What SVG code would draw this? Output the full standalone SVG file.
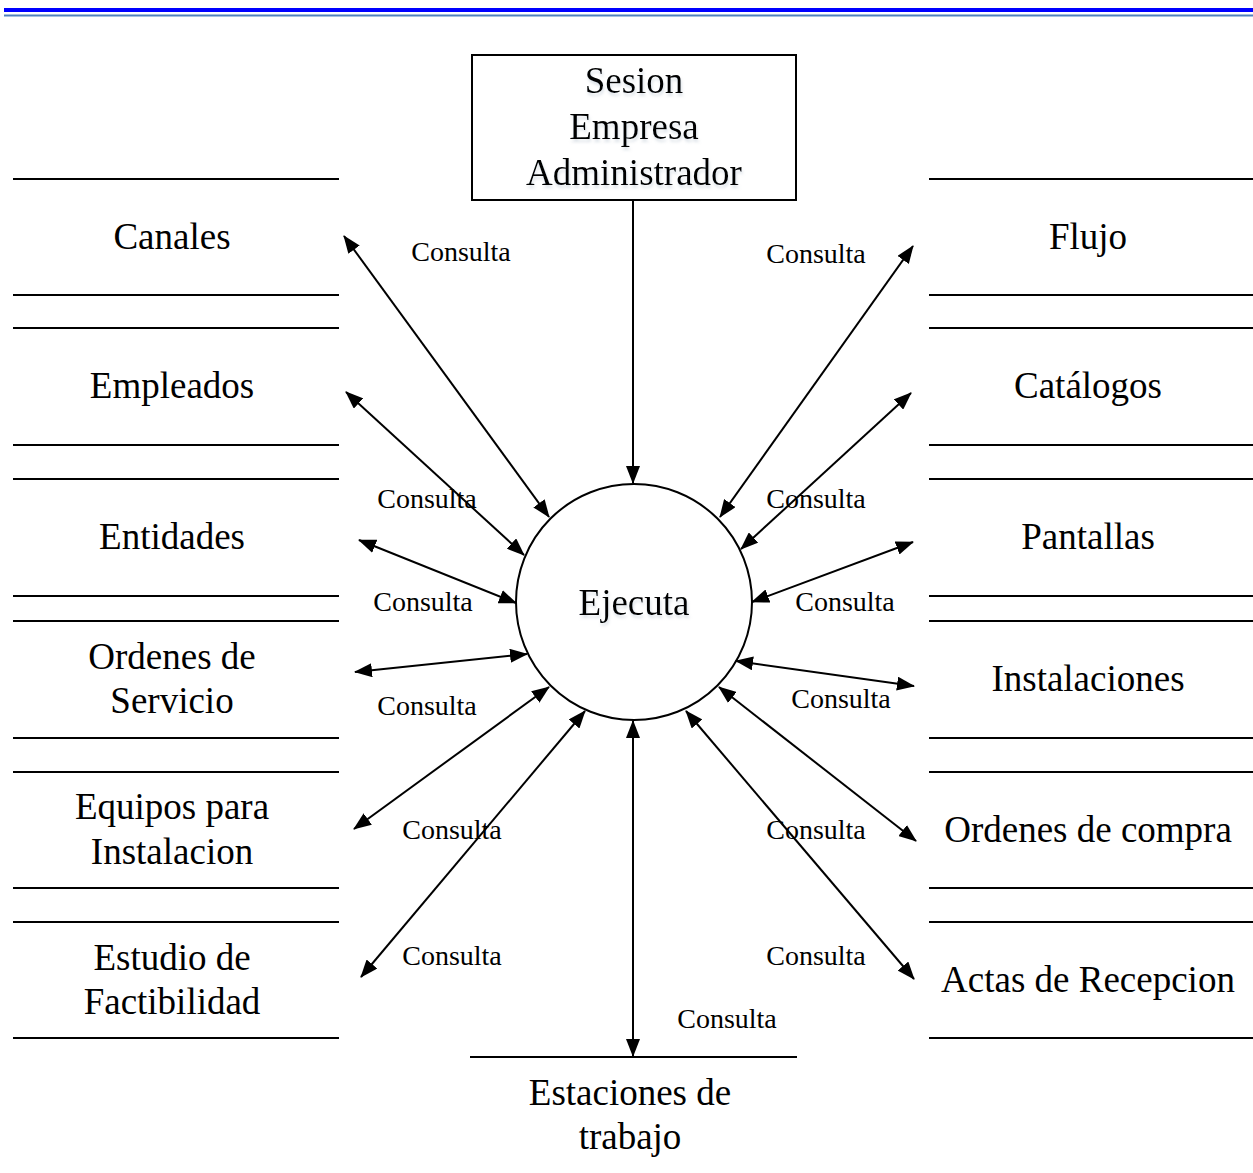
<svg xmlns="http://www.w3.org/2000/svg" width="1253" height="1173" viewBox="0 0 1253 1173">
<style>
.big{font-family:"Liberation Serif","Times New Roman",serif;font-size:37px;fill:#000;text-anchor:middle}
.lbl{font-family:"Liberation Serif","Times New Roman",serif;font-size:28px;fill:#000;text-anchor:middle}
.st{stroke:#000;stroke-width:2;fill:none}
.cn{stroke:#000;stroke-width:2;fill:none;marker-end:url(#ah)}
.cn2{stroke:#000;stroke-width:2;fill:none;marker-start:url(#ah);marker-end:url(#ah)}
</style>
<defs>
<marker id="ah" markerUnits="userSpaceOnUse" markerWidth="18" markerHeight="14" refX="17" refY="7" orient="auto-start-reverse" viewBox="0 0 18 14">
<path d="M0,0 L18,7 L0,14 Z" fill="#000"/>
</marker>
<filter id="sh" x="-10%" y="-20%" width="120%" height="150%">
<feGaussianBlur in="SourceAlpha" stdDeviation="1.5" result="b"/>
<feOffset dx="1" dy="3" result="o"/>
<feFlood flood-color="#9ab" flood-opacity="0.35"/>
<feComposite in2="o" operator="in" result="s"/>
<feMerge><feMergeNode in="s"/><feMergeNode in="SourceGraphic"/></feMerge>
</filter>
</defs>
<rect width="1253" height="1173" fill="#fff"/>
<rect x="4" y="8" width="1249" height="4" fill="#0000ff"/>
<rect x="4" y="14.5" width="1249" height="2" fill="#4f81bd"/>

<g id="sesion">
<rect x="472" y="55" width="324" height="145" fill="#fff" stroke="#000" stroke-width="2"/>
<g filter="url(#sh)">
<text class="big" x="634" y="93">Sesion</text>
<text class="big" x="634" y="139">Empresa</text>
<text class="big" x="634" y="185">Administrador</text>
</g>
</g>

<g id="ejecuta">
<circle cx="634" cy="602" r="118" fill="#fff" stroke="#000" stroke-width="2"/>
<text class="big" x="634" y="615" filter="url(#sh)">Ejecuta</text>
</g>

<g id="canales"><line class="st" x1="13" y1="179" x2="339" y2="179"/><line class="st" x1="13" y1="295" x2="339" y2="295"/><text class="big" x="172" y="249">Canales</text></g>
<g id="empleados"><line class="st" x1="13" y1="328" x2="339" y2="328"/><line class="st" x1="13" y1="445" x2="339" y2="445"/><text class="big" x="172" y="398">Empleados</text></g>
<g id="entidades"><line class="st" x1="13" y1="479" x2="339" y2="479"/><line class="st" x1="13" y1="596" x2="339" y2="596"/><text class="big" x="172" y="549">Entidades</text></g>
<g id="ordenes-servicio"><line class="st" x1="13" y1="621" x2="339" y2="621"/><line class="st" x1="13" y1="738" x2="339" y2="738"/><text class="big" x="172" y="669">Ordenes de</text><text class="big" x="172" y="713">Servicio</text></g>
<g id="equipos"><line class="st" x1="13" y1="772" x2="339" y2="772"/><line class="st" x1="13" y1="888" x2="339" y2="888"/><text class="big" x="172" y="819">Equipos para</text><text class="big" x="172" y="864">Instalacion</text></g>
<g id="estudio"><line class="st" x1="13" y1="922" x2="339" y2="922"/><line class="st" x1="13" y1="1038" x2="339" y2="1038"/><text class="big" x="172" y="970">Estudio de</text><text class="big" x="172" y="1014">Factibilidad</text></g>

<g id="flujo"><line class="st" x1="929" y1="179" x2="1253" y2="179"/><line class="st" x1="929" y1="295" x2="1253" y2="295"/><text class="big" x="1088" y="249">Flujo</text></g>
<g id="catalogos"><line class="st" x1="929" y1="328" x2="1253" y2="328"/><line class="st" x1="929" y1="445" x2="1253" y2="445"/><text class="big" x="1088" y="398">Catálogos</text></g>
<g id="pantallas"><line class="st" x1="929" y1="479" x2="1253" y2="479"/><line class="st" x1="929" y1="596" x2="1253" y2="596"/><text class="big" x="1088" y="549">Pantallas</text></g>
<g id="instalaciones"><line class="st" x1="929" y1="621" x2="1253" y2="621"/><line class="st" x1="929" y1="738" x2="1253" y2="738"/><text class="big" x="1088" y="691">Instalaciones</text></g>
<g id="ordenes-compra"><line class="st" x1="929" y1="772" x2="1253" y2="772"/><line class="st" x1="929" y1="888" x2="1253" y2="888"/><text class="big" x="1088" y="842">Ordenes de compra</text></g>
<g id="actas"><line class="st" x1="929" y1="922" x2="1253" y2="922"/><line class="st" x1="929" y1="1038" x2="1253" y2="1038"/><text class="big" x="1088" y="992">Actas de Recepcion</text></g>

<g id="estaciones"><line class="st" x1="470" y1="1057" x2="797" y2="1057"/><text class="big" x="630" y="1105">Estaciones de</text><text class="big" x="630" y="1149">trabajo</text></g>

<g id="connectors">
<line class="cn" x1="633" y1="200" x2="633" y2="483"/>
<line class="cn2" x1="633" y1="721" x2="633" y2="1056"/>
<line class="cn2" x1="344" y1="236" x2="549" y2="517"/>
<line class="cn2" x1="346" y1="392" x2="524" y2="555"/>
<line class="cn2" x1="359" y1="540" x2="516" y2="603"/>
<line class="cn2" x1="355" y1="672" x2="527" y2="654"/>
<line class="cn2" x1="354" y1="829" x2="549" y2="687"/>
<line class="cn2" x1="361" y1="977" x2="585" y2="711"/>
<line class="cn2" x1="913" y1="246" x2="720" y2="517"/>
<line class="cn2" x1="911" y1="393" x2="741" y2="549"/>
<line class="cn2" x1="913" y1="542" x2="752" y2="602"/>
<line class="cn2" x1="914" y1="686" x2="736" y2="661"/>
<line class="cn2" x1="916" y1="841" x2="719" y2="687"/>
<line class="cn2" x1="914" y1="979" x2="686" y2="711"/>
<text class="lbl" x="461" y="261">Consulta</text>
<text class="lbl" x="816" y="263">Consulta</text>
<text class="lbl" x="427" y="508">Consulta</text>
<text class="lbl" x="816" y="508">Consulta</text>
<text class="lbl" x="423" y="611">Consulta</text>
<text class="lbl" x="845" y="611">Consulta</text>
<text class="lbl" x="427" y="715">Consulta</text>
<text class="lbl" x="841" y="708">Consulta</text>
<text class="lbl" x="452" y="839">Consulta</text>
<text class="lbl" x="816" y="839">Consulta</text>
<text class="lbl" x="452" y="965">Consulta</text>
<text class="lbl" x="816" y="965">Consulta</text>
<text class="lbl" x="727" y="1028">Consulta</text>
</g>
</svg>
